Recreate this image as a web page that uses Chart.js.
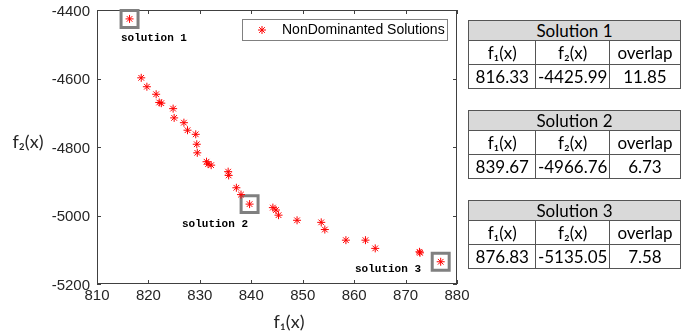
<!DOCTYPE html>
<html>
<head>
<meta charset="utf-8">
<script src="https://cdn.jsdelivr.net/npm/chart.js@4/dist/chart.umd.min.js"></script>
<style>
  html, body { margin: 0; padding: 0; background: #fff; overflow: hidden; }
  #wrap { position: relative; width: 681px; height: 335px; overflow: hidden; }
  #chart { position: absolute; left: 0; top: 0; }
  .sol { position: absolute; left: 468px; border-collapse: collapse; table-layout: fixed;
         font-family: Lato, "Open Sans", sans-serif; font-size: 17px; color: #000; }
  .sol td, .sol th { border: 1px solid #555; padding: 0; text-align: center; white-space: nowrap; overflow: hidden; }
  .sol th { background: #d9d9d9; height: 19px; font-weight: normal; line-height: 19px; }
  .sol td { height: 23px; line-height: 23px; }
</style>
</head>
<body>
<div id="wrap">
  <canvas id="chart" width="681" height="335"></canvas>
</div>
<script>
// nondominated solutions
const f1 = [816.33, 818.6, 819.7, 821.5, 822.1, 822.5, 824.8, 825.0, 826.9, 827.6, 829.2,
  829.4, 829.5, 831.3, 831.6, 832.2, 835.5, 835.6, 837.1, 838.0, 839.67, 844.2, 844.8,
  845.3, 848.9, 853.6, 854.3, 858.4, 862.2, 864.1, 872.7, 872.8, 876.83];
const f2 = [-4425.99, -4598, -4624, -4646, -4670, -4672, -4688, -4715, -4729, -4751, -4763,
  -4792, -4817, -4843, -4850, -4853, -4872, -4883, -4919, -4939, -4966.76, -4977, -4984,
  -4999, -5014, -5020, -5041, -5072, -5072, -5096, -5106, -5109, -5135.05];

// highlighted solutions (boxes + tables)
const solNames = ["Solution 1", "Solution 2", "Solution 3"];
const solLabels = ["solution 1", "solution 2", "solution 3"];
const solF1 = [816.33, 839.67, 876.83];
const solF2 = [-4425.99, -4966.76, -5135.05];
const solOverlap = [11.85, 6.73, 7.58];

const xTicks = [810, 820, 830, 840, 850, 860, 870, 880];
const yTicks = [-5200, -5000, -4800, -4600, -4400];

// tables on the right
const tableTops = [20, 110, 200];
solNames.forEach((name, i) => {
  const t = document.createElement("table");
  t.className = "sol";
  t.style.top = tableTops[i] + "px";
  t.innerHTML =
    '<colgroup><col style="width:70px"><col style="width:74px"><col style="width:74px"></colgroup>' +
    '<tr><th colspan="3">' + name + '</th></tr>' +
    '<tr><td>f₁(x)</td><td>f₂(x)</td><td>overlap</td></tr>' +
    '<tr><td>' + solF1[i].toFixed(2) + '</td><td>' + solF2[i].toFixed(2) + '</td><td>' + solOverlap[i].toFixed(2) + '</td></tr>';
  document.getElementById("wrap").appendChild(t);
});

function drawStar(ctx, x, y, r) {
  ctx.beginPath();
  ctx.moveTo(x - r, y); ctx.lineTo(x + r, y);
  ctx.moveTo(x, y - r); ctx.lineTo(x, y + r);
  const d = r * Math.SQRT1_2;
  ctx.moveTo(x - d, y - d); ctx.lineTo(x + d, y + d);
  ctx.moveTo(x - d, y + d); ctx.lineTo(x + d, y - d);
  ctx.stroke();
}

const decor = {
  id: "decor",
  beforeDatasetsDraw(chart) {
    const { ctx, chartArea: a, scales } = chart;
    ctx.save();
    ctx.strokeStyle = "#404040";
    ctx.lineWidth = 1;
    ctx.strokeRect(a.left + 0.5, a.top + 0.5, a.right - a.left - 1, a.bottom - a.top - 1);
    // inward ticks on all four sides
    ctx.beginPath();
    xTicks.forEach(v => {
      const px = Math.round(scales.x.getPixelForValue(v)) + 0.5;
      ctx.moveTo(px, a.bottom); ctx.lineTo(px, a.bottom - 4);
      ctx.moveTo(px, a.top); ctx.lineTo(px, a.top + 4);
    });
    yTicks.forEach(v => {
      const py = Math.round(scales.y.getPixelForValue(v)) + 0.5;
      ctx.moveTo(a.left, py); ctx.lineTo(a.left + 4, py);
      ctx.moveTo(a.right, py); ctx.lineTo(a.right - 4, py);
    });
    ctx.stroke();
    // y tick labels
    ctx.fillStyle = "#262626";
    ctx.font = '15px "Liberation Sans", Arial, sans-serif';
    ctx.textAlign = "right";
    ctx.textBaseline = "middle";
    yTicks.forEach(v => {
      ctx.fillText(String(v), a.left - 7, scales.y.getPixelForValue(v) + 1.5);
    });
    ctx.restore();
  },
  afterDraw(chart) {
    const { ctx, scales } = chart;
    ctx.save();
    // legend box
    ctx.fillStyle = "#fff";
    ctx.fillRect(242.5, 19.5, 205, 21);
    ctx.strokeStyle = "#808080";
    ctx.strokeRect(242.5, 19.5, 205, 21);
    ctx.strokeStyle = "#ff0000";
    drawStar(ctx, 262, 30, 4);
    ctx.fillStyle = "#000";
    ctx.font = '14px "Liberation Sans", Arial, sans-serif';
    ctx.textBaseline = "middle";
    ctx.textAlign = "left";
    ctx.fillText("NonDominanted Solutions", 282, 30.5);

    // solution labels next to the boxes
    const offs = [[-8.6, 19], [-67.6, 20], [-85.7, 7]];
    ctx.font = 'bold 11px "Liberation Mono", monospace';
    solLabels.forEach((s, i) => {
      const px = scales.x.getPixelForValue(solF1[i]);
      const py = scales.y.getPixelForValue(solF2[i]);
      ctx.fillText(s, px + offs[i][0], py + offs[i][1]);
    });

    // axis titles
    ctx.font = '18px Lato, "Open Sans", sans-serif';
    ctx.textAlign = "center";
    ctx.fillStyle = "#262626";
    ctx.fillText("f₁(x)", 289, 322);
    ctx.fillText("f₂(x)", 28, 142);
    ctx.restore();
  }
};

new Chart(document.getElementById("chart"), {
  type: "scatter",
  data: {
    datasets: [
      {
        label: "NonDominanted Solutions",
        data: f1.map((x, i) => ({ x: x, y: f2[i] })),
        pointStyle: "star",
        pointRadius: 4,
        borderWidth: 1,
        borderColor: "#ff0000",
        backgroundColor: "#ff0000",
        clip: false
      },
      {
        label: "selected",
        data: solF1.map((x, i) => ({ x: x, y: solF2[i] })),
        pointStyle: "rect",
        pointRadius: 12,
        borderWidth: 3,
        borderColor: "#808080",
        backgroundColor: "rgba(0,0,0,0)",
        clip: false
      }
    ]
  },
  options: {
    responsive: false,
    animation: false,
    devicePixelRatio: 1,
    layout: { autoPadding: false, padding: { left: 0, top: 10, right: 224, bottom: 0 } },
    plugins: { legend: { display: false }, tooltip: { enabled: false } },
    scales: {
      x: {
        type: "linear",
        min: 810,
        max: 880,
        afterBuildTicks: (s) => { s.ticks = xTicks.map(v => ({ value: v })); },
        afterFit: (s) => { s.height = 51; },
        grid: { display: false, drawTicks: false },
        border: { display: false },
        ticks: { color: "#262626", padding: 3, maxRotation: 0, font: { family: '"Liberation Sans", Arial', size: 15 } }
      },
      y: {
        type: "linear",
        min: -5200,
        max: -4400,
        afterBuildTicks: (s) => { s.ticks = yTicks.map(v => ({ value: v })); },
        afterFit: (s) => { s.width = 97; },
        grid: { display: false, drawTicks: false },
        border: { display: false },
        ticks: { display: false }
      }
    }
  },
  plugins: [decor]
});
</script>
</body>
</html>
